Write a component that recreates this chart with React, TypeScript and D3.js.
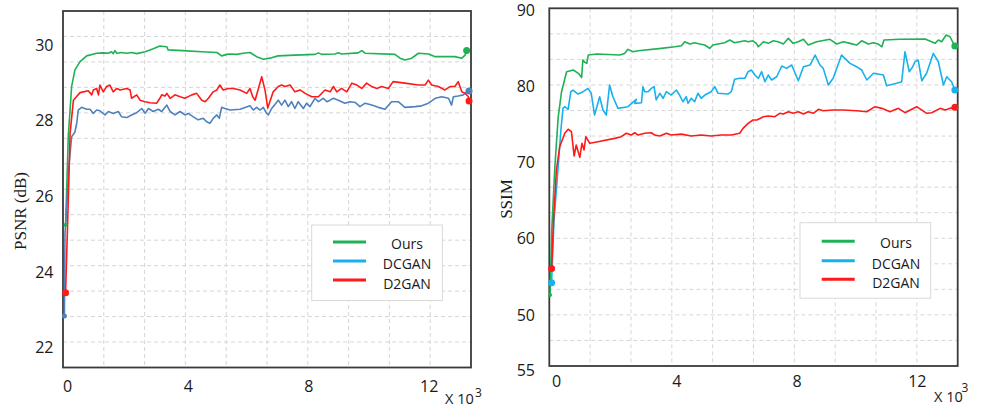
//this component renders the two training curves (PSNR and SSIM) side by side
import * as d3 from 'd3';
import React, { useEffect, useRef } from 'react';

const psnrOurs = [
  [-0.07, 25.24], [0.02, 27.6], [0.08, 28.3], [0.13, 28.9], [0.24, 29.34], [0.41, 29.56], [0.63, 29.71],
  [0.96, 29.78], [1.18, 29.79], [1.35, 29.78], [1.45, 29.82], [1.51, 29.77], [1.57, 29.85], [1.63, 29.78],
  [1.79, 29.8], [1.96, 29.78], [2.12, 29.8], [2.29, 29.77], [2.57, 29.82], [2.84, 29.9], [3.06, 29.97],
  [3.2, 29.96], [3.29, 29.95], [3.33, 29.87], [3.81, 29.85], [4.45, 29.82], [4.95, 29.8], [5.11, 29.71],
  [5.28, 29.75], [5.39, 29.76], [5.61, 29.75], [5.83, 29.78], [6.05, 29.8], [6.27, 29.69], [6.49, 29.62],
  [6.71, 29.65], [6.98, 29.71], [7.54, 29.73], [8.21, 29.75], [8.32, 29.79], [8.43, 29.75], [8.87, 29.76],
  [8.98, 29.79], [9.09, 29.76], [9.64, 29.79], [9.76, 29.85], [9.87, 29.78], [10.86, 29.75], [11.03, 29.65],
  [11.19, 29.6], [11.42, 29.65], [11.64, 29.78], [11.97, 29.76], [12.2, 29.69], [12.85, 29.69], [13.08, 29.65],
  [13.19, 29.73], [13.24, 29.85]
];

const psnrDcgan = [
  [-0.11, 22.84], [-0.09, 25.0], [-0.03, 25.8], [0.04, 26.8], [0.13, 27.57], [0.24, 27.7], [0.3, 27.93],
  [0.35, 28.28], [0.46, 28.35], [0.63, 28.3], [0.74, 28.3], [0.85, 28.19], [0.96, 28.28], [1.07, 28.26],
  [1.24, 28.15], [1.35, 28.24], [1.51, 28.19], [1.68, 28.24], [1.79, 28.1], [1.96, 28.08], [2.12, 28.15],
  [2.29, 28.21], [2.46, 28.32], [2.57, 28.19], [2.68, 28.32], [2.84, 28.24], [3.01, 28.3], [3.12, 28.24],
  [3.29, 28.41], [3.4, 28.24], [3.56, 28.15], [3.73, 28.24], [3.89, 28.15], [4.0, 28.19], [4.17, 28.1],
  [4.33, 28.02], [4.5, 28.06], [4.61, 27.97], [4.72, 27.93], [4.83, 28.06], [4.95, 28.15], [5.03, 28.06],
  [5.11, 28.35], [5.22, 28.32], [5.39, 28.28], [5.72, 28.3], [6.05, 28.39], [6.16, 28.28], [6.27, 28.35],
  [6.38, 28.28], [6.49, 28.35], [6.6, 28.19], [6.66, 28.15], [6.77, 28.32], [6.99, 28.54], [7.1, 28.41],
  [7.21, 28.54], [7.32, 28.37], [7.43, 28.5], [7.54, 28.32], [7.65, 28.5], [7.82, 28.32], [7.93, 28.46],
  [8.04, 28.37], [8.21, 28.59], [8.32, 28.5], [8.48, 28.59], [8.6, 28.5], [8.71, 28.54], [8.82, 28.59],
  [8.98, 28.54], [9.2, 28.46], [9.37, 28.5], [9.54, 28.48], [9.7, 28.37], [9.87, 28.46], [10.09, 28.41],
  [10.31, 28.35], [10.53, 28.3], [10.75, 28.5], [10.97, 28.5], [11.19, 28.35], [11.53, 28.37], [11.75, 28.39],
  [11.97, 28.46], [12.2, 28.59], [12.41, 28.63], [12.64, 28.59], [12.74, 28.41], [12.8, 28.63], [12.96, 28.65],
  [13.13, 28.68], [13.24, 28.76], [13.32, 28.78]
];

const psnrD2gan = [
  [-0.07, 23.45], [0.02, 25.9], [0.08, 27.67], [0.19, 28.54], [0.41, 28.74], [0.68, 28.79], [0.8, 28.68],
  [0.85, 28.81], [0.96, 28.85], [1.02, 28.68], [1.07, 28.94], [1.18, 28.76], [1.29, 28.9], [1.4, 28.94],
  [1.51, 28.76], [1.63, 28.85], [1.74, 28.81], [1.96, 28.85], [2.07, 28.81], [2.12, 28.59], [2.29, 28.68],
  [2.4, 28.54], [2.57, 28.5], [2.73, 28.47], [2.95, 28.46], [3.06, 28.59], [3.12, 28.68], [3.23, 28.65],
  [3.29, 28.72], [3.4, 28.59], [3.56, 28.68], [3.73, 28.63], [3.89, 28.59], [4.12, 28.68], [4.28, 28.72],
  [4.45, 28.54], [4.56, 28.5], [4.67, 28.59], [4.83, 28.76], [4.95, 28.81], [5.05, 28.94], [5.16, 28.81],
  [5.33, 28.85], [5.5, 28.85], [5.72, 28.81], [5.94, 28.72], [6.05, 28.85], [6.14, 28.63], [6.22, 28.54],
  [6.33, 28.85], [6.44, 29.16], [6.55, 28.8], [6.64, 28.33], [6.82, 28.76], [6.99, 28.9], [7.1, 28.94],
  [7.21, 28.9], [7.38, 28.94], [7.54, 28.76], [7.71, 28.81], [7.88, 28.72], [8.1, 28.63], [8.32, 28.63],
  [8.54, 28.81], [8.71, 28.76], [8.82, 28.9], [8.93, 28.76], [9.09, 28.85], [9.26, 28.76], [9.43, 28.99],
  [9.6, 28.94], [9.76, 28.85], [9.92, 28.99], [10.09, 28.9], [10.26, 28.85], [10.42, 28.9], [10.64, 28.85],
  [10.8, 29.03], [11.19, 28.99], [11.64, 28.94], [11.86, 28.94], [11.97, 29.07], [12.08, 28.94], [12.3, 28.9],
  [12.52, 28.81], [12.69, 28.9], [12.85, 28.9], [12.96, 29.03], [13.08, 28.76], [13.19, 28.72], [13.3, 28.63],
  [13.32, 28.52]
];

const ssimOurs = [
  [-0.22, 52.6], [-0.17, 60.7], [-0.06, 69.5], [0.05, 76.0], [0.16, 79.3], [0.33, 81.97], [0.55, 82.2],
  [0.72, 81.76], [0.83, 81.2], [0.87, 83.5], [0.94, 83.2], [1.0, 83.07], [1.05, 84.16], [1.34, 84.3],
  [2.1, 84.16], [2.26, 84.38], [2.37, 84.91], [2.54, 84.6], [2.71, 84.73], [3.48, 85.04], [3.93, 85.25],
  [4.15, 85.39], [4.26, 85.91], [4.43, 85.61], [4.59, 85.78], [4.76, 85.61], [4.93, 85.48], [5.09, 85.04],
  [5.2, 85.48], [5.37, 85.61], [5.59, 85.78], [5.76, 86.14], [5.92, 85.78], [6.09, 85.91], [6.26, 86.04],
  [6.37, 85.91], [6.53, 86.04], [6.64, 85.7], [6.71, 85.25], [6.88, 85.91], [7.04, 85.7], [7.21, 86.04],
  [7.37, 85.91], [7.54, 85.61], [7.71, 86.36], [7.87, 85.7], [8.04, 85.91], [8.21, 86.23], [8.37, 85.48],
  [8.65, 85.91], [9.09, 86.23], [9.32, 85.61], [9.54, 85.91], [9.76, 85.7], [9.98, 85.48], [10.15, 86.04],
  [10.37, 85.61], [10.54, 85.78], [10.7, 85.61], [10.82, 85.25], [10.89, 86.14], [11.42, 86.23], [12.26, 86.27],
  [12.59, 85.7], [12.7, 86.14], [12.81, 85.91], [12.96, 86.8], [13.09, 86.57], [13.2, 85.7], [13.25, 85.35]
];

const ssimDcgan = [
  [-0.17, 54.2], [-0.09, 62.4], [0.04, 69.0], [0.15, 74.73], [0.21, 77.15], [0.27, 77.37], [0.38, 77.0],
  [0.47, 79.34], [0.54, 79.56], [0.71, 79.03], [0.88, 79.34], [1.04, 79.78], [1.15, 79.13], [1.26, 76.27],
  [1.37, 77.81], [1.43, 78.68], [1.54, 76.93], [1.65, 76.27], [1.76, 80.22], [1.87, 78.68], [2.04, 77.15],
  [2.37, 77.37], [2.65, 78.34], [2.6, 77.8], [2.82, 77.89], [2.87, 80.0], [2.93, 79.34], [3.04, 79.34],
  [3.15, 79.78], [3.24, 80.0], [3.31, 78.25], [3.43, 79.13], [3.54, 78.47], [3.65, 79.34], [3.81, 78.9],
  [3.98, 79.56], [4.09, 78.9], [4.2, 78.02], [4.31, 78.68], [4.37, 77.81], [4.48, 78.47], [4.59, 78.02],
  [4.7, 79.13], [4.81, 78.47], [4.93, 78.9], [5.14, 79.34], [5.26, 80.0], [5.37, 79.13], [5.7, 79.03],
  [5.81, 79.34], [5.92, 80.97], [6.09, 81.1], [6.26, 81.1], [6.37, 81.97], [6.48, 82.19], [6.6, 81.5],
  [6.71, 81.1], [6.82, 81.97], [6.93, 80.65], [7.04, 81.53], [7.15, 80.88], [7.32, 81.31], [7.49, 82.72],
  [7.65, 82.41], [7.82, 82.85], [8.04, 80.78], [8.21, 82.63], [8.43, 82.85], [8.6, 84.16], [8.76, 82.85],
  [8.87, 82.41], [9.04, 80.22], [9.2, 81.1], [9.48, 84.16], [9.76, 83.07], [9.98, 82.63], [10.15, 82.19],
  [10.32, 80.88], [10.54, 81.76], [10.87, 81.53], [10.98, 80.13], [11.31, 80.45], [11.48, 80.65], [11.59, 84.6],
  [11.73, 81.97], [11.85, 82.63], [11.92, 83.28], [12.03, 83.5], [12.15, 80.78], [12.31, 81.76], [12.53, 84.38],
  [12.7, 83.28], [12.87, 80.22], [12.98, 81.31], [13.14, 80.65], [13.25, 79.56]
];

const ssimD2gan = [
  [-0.17, 56.1], [-0.11, 62.0], [-0.01, 69.04], [0.1, 72.1], [0.27, 73.87], [0.38, 74.4], [0.49, 74.08],
  [0.58, 70.88], [0.65, 72.33], [0.77, 70.7], [0.84, 72.55], [0.91, 71.67], [0.97, 73.42], [1.1, 72.55],
  [1.37, 72.76], [1.93, 73.2], [2.15, 73.42], [2.32, 73.87], [2.48, 73.64], [2.6, 73.94], [2.71, 73.64],
  [2.93, 73.87], [3.15, 73.94], [3.26, 73.64], [3.43, 73.51], [3.65, 73.87], [3.81, 73.64], [4.15, 73.76],
  [4.48, 73.51], [4.81, 73.64], [5.14, 73.51], [5.48, 73.64], [5.81, 73.64], [6.09, 73.87], [6.2, 74.52],
  [6.37, 75.18], [6.53, 75.62], [6.66, 75.62], [6.88, 76.05], [7.04, 76.14], [7.26, 76.05], [7.42, 76.5],
  [7.54, 76.4], [7.71, 76.71], [7.87, 76.5], [8.04, 76.71], [8.21, 76.4], [8.37, 76.71], [8.54, 76.5],
  [8.71, 77.02], [8.87, 76.84], [9.2, 76.93], [9.54, 76.93], [9.98, 76.84], [10.32, 76.71], [10.59, 77.37],
  [10.82, 77.15], [11.09, 76.71], [11.37, 77.15], [11.59, 76.58], [11.98, 77.37], [12.31, 76.5], [12.48, 76.58],
  [12.76, 77.15], [12.93, 76.93], [13.09, 77.15], [13.25, 77.28]
];

const seriesNames = ['Ours', 'DCGAN', 'D2GAN'];
const xTicks = [0, 4, 8, 12];
const psnrTicks = [22, 24, 26, 28, 30];
const psnrTickLabels = ['22', '24', '26', '28', '30'];
const ssimTicks = [42.7, 50, 60, 70, 80, 90];
const ssimTickLabels = ['55', '50', '60', '70', '80', '90'];

const panels = [
  {
    box: { left: 63, top: 11, right: 471, bottom: 367.5 },
    xDomain: [-0.156, 13.385],
    yDomain: [21.477, 30.896],
    yTicks: psnrTicks,
    yLabels: psnrTickLabels,
    title: 'PSNR (dB)',
    titlePos: [20, 211],
    series: [psnrOurs, psnrDcgan, psnrD2gan],
    colors: ['#1fb155', '#4f81bd', '#ff1a1a'],
    legendColors: ['#1fb155', '#19b0ee', '#ff1a1a'],
    startR: [2, 2.5, 3.5],
    xLabelY: 391.7,
    yLabelX: 53.5,
    legend: { x: 311.7, y: 225, lineX: 333, textX: 407, rows: [242, 261, 280] },
    unit: { x: 445, y: 404, supX: 475, supY: 396.5 }
  },
  {
    box: { left: 549.3, top: 8.3, right: 957.7, bottom: 366 },
    xDomain: [-0.246, 13.344],
    yDomain: [43.26, 90.31],
    yTicks: ssimTicks,
    yLabels: ssimTickLabels,
    title: 'SSIM',
    titlePos: [506, 199],
    series: [ssimOurs, ssimDcgan, ssimD2gan],
    colors: ['#1fb155', '#19b0ee', '#ff1a1a'],
    legendColors: ['#1fb155', '#19b0ee', '#ff1a1a'],
    startR: [2, 3.5, 3.5],
    xLabelY: 387,
    yLabelX: 535,
    legend: { x: 800, y: 222.7, lineX: 821.7, textX: 896, rows: [241.3, 260.7, 279.3] },
    unit: { x: 934, y: 401.7, supX: 961.5, supY: 391.7 }
  }
];

const drawPanel = (svg, p) => {
  const { box } = p;
  const x = d3.scaleLinear().domain(p.xDomain).range([box.left, box.right]);
  const y = d3.scaleLinear().domain(p.yDomain).range([box.bottom, box.top]);

  //the dashed grid splits the frame into 10 x 14 equal cells
  const gx = d3.scaleLinear().domain([0, 10]).range([box.left, box.right]);
  const gy = d3.scaleLinear().domain([0, 14]).range([box.bottom, box.top]);
  const g = svg.append('g');

  g.selectAll('.vgrid')
    .data(d3.range(1, 10))
    .enter()
    .append('line')
    .attr('x1', (d) => gx(d))
    .attr('x2', (d) => gx(d))
    .attr('y1', box.top)
    .attr('y2', box.bottom)
    .attr('stroke', '#d6d6d6')
    .attr('stroke-dasharray', '4,3');

  g.selectAll('.hgrid')
    .data(d3.range(1, 14))
    .enter()
    .append('line')
    .attr('x1', box.left)
    .attr('x2', box.right)
    .attr('y1', (d) => gy(d))
    .attr('y2', (d) => gy(d))
    .attr('stroke', '#d6d6d6')
    .attr('stroke-dasharray', '4,3');

  //frame
  g.append('rect')
    .attr('x', box.left)
    .attr('y', box.top)
    .attr('width', box.right - box.left)
    .attr('height', box.bottom - box.top)
    .attr('fill', 'none')
    .attr('stroke', '#3a3a3a')
    .attr('stroke-width', 1.8);

  //tick labels
  g.selectAll('.xlabel')
    .data(xTicks)
    .enter()
    .append('text')
    .attr('x', (d) => x(d))
    .attr('y', p.xLabelY)
    .attr('text-anchor', 'middle')
    .attr('font-family', 'Open Sans')
    .attr('font-size', 16)
    .attr('fill', '#1a1a1a')
    .text((d) => d);

  g.selectAll('.ylabel')
    .data(p.yTicks)
    .enter()
    .append('text')
    .attr('x', p.yLabelX)
    .attr('y', (d) => y(d))
    .attr('dy', '0.36em')
    .attr('text-anchor', 'end')
    .attr('font-family', 'Open Sans')
    .attr('font-size', 16)
    .attr('fill', '#1a1a1a')
    .text((d, i) => p.yLabels[i]);

  //axis title
  g.append('text')
    .attr('transform', `translate(${p.titlePos[0]}, ${p.titlePos[1]}) rotate(-90)`)
    .attr('text-anchor', 'middle')
    .attr('dy', '0.35em')
    .attr('font-family', 'Liberation Serif')
    .attr('font-size', 17)
    .attr('fill', '#1a1a1a')
    .text(p.title);

  //x 10^3 unit
  g.append('text')
    .attr('x', p.unit.x)
    .attr('y', p.unit.y)
    .attr('font-family', 'Open Sans')
    .attr('font-size', 14.5)
    .attr('fill', '#1a1a1a')
    .text('X 10');
  g.append('text')
    .attr('x', p.unit.supX)
    .attr('y', p.unit.supY)
    .attr('font-family', 'Open Sans')
    .attr('font-size', 12)
    .attr('fill', '#1a1a1a')
    .text('3');

  //curves
  const line = d3
    .line()
    .x((d) => x(d[0]))
    .y((d) => y(d[1]));

  p.series.forEach((s, i) => {
    g.append('path')
      .datum(s)
      .attr('d', line)
      .attr('fill', 'none')
      .attr('stroke', p.colors[i])
      .attr('stroke-width', 1.6)
      .attr('stroke-linejoin', 'round');
  });

  //start and end markers
  p.series.forEach((s, i) => {
    const first = s[0];
    const last = s[s.length - 1];
    g.append('circle')
      .attr('cx', x(first[0]))
      .attr('cy', y(first[1]))
      .attr('r', p.startR[i])
      .attr('fill', p.colors[i]);
    g.append('circle')
      .attr('cx', x(last[0]))
      .attr('cy', y(last[1]))
      .attr('r', 3.5)
      .attr('fill', p.colors[i]);
  });

  //legend
  const lg = g.append('g');
  lg.append('rect')
    .attr('x', p.legend.x)
    .attr('y', p.legend.y)
    .attr('width', 130.7)
    .attr('height', 75.5)
    .attr('fill', '#fff')
    .attr('stroke', '#d9d9d9');

  lg.selectAll('.lline')
    .data(seriesNames)
    .enter()
    .append('line')
    .attr('x1', p.legend.lineX)
    .attr('x2', p.legend.lineX + 33)
    .attr('y1', (d, i) => p.legend.rows[i])
    .attr('y2', (d, i) => p.legend.rows[i])
    .attr('stroke', (d, i) => p.legendColors[i])
    .attr('stroke-width', 3);

  lg.selectAll('.ltext')
    .data(seriesNames)
    .enter()
    .append('text')
    .attr('x', p.legend.textX)
    .attr('y', (d, i) => p.legend.rows[i] + 2 + i)
    .attr('dy', '0.36em')
    .attr('text-anchor', 'middle')
    .attr('font-family', 'Open Sans')
    .attr('font-size', 14)
    .attr('fill', '#1a1a1a')
    .text((d) => d);
};

const App = () => {
  const svgRef = useRef(null);

  useEffect(() => {
    const svg = d3.select(svgRef.current);
    svg.selectAll('*').remove();
    panels.forEach((p) => drawPanel(svg, p));
  }, []);

  return (
    <svg
      ref={svgRef}
      width={986}
      height={408}
      style={{ position: 'absolute', left: 0, top: 0, background: '#fff' }}
    ></svg>
  );
};

export default App;
